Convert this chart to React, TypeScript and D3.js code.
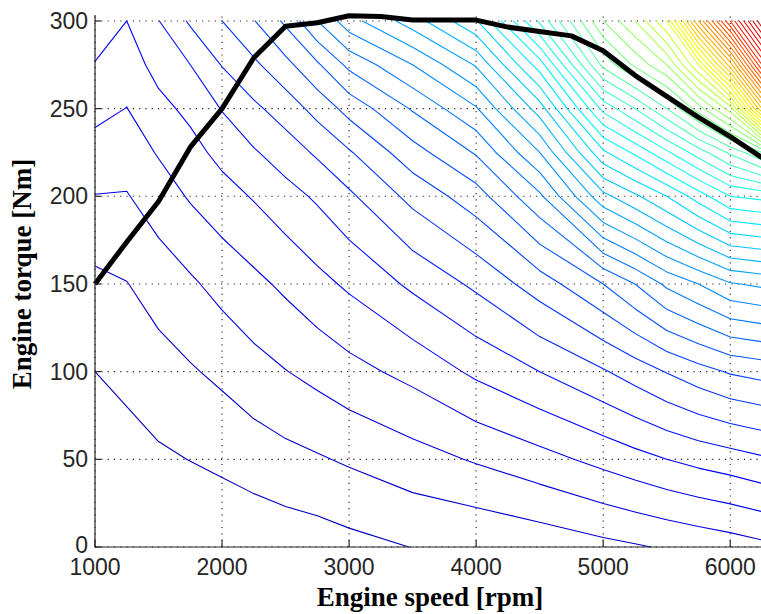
import React from 'react';
import * as d3 from 'd3';

const gridSpeeds = [1000, 1250, 1500, 1750, 2000, 2250, 2500, 2750, 3000, 3500, 4000, 4500, 5000, 5250, 5500, 5750, 6000, 6250];
const gridTorques = [0, 50, 100, 150, 200, 225, 250, 275, 300];

// One array per torque row (values = contour level index at each speed)
const levelAtT0 = [-0.5, -0.3, 0.0, 0.08, 0.2, 0.3, 0.4, 0.5, 0.69, 1.02, 1.1, 1.35, 1.72, 1.9, 2.1, 2.3, 2.5, 2.75];
const levelAtT50 = [0.3, 0.55, 0.85, 1.02, 1.21, 1.45, 1.7, 1.9, 2.13, 2.6, 3.1, 3.65, 4.3, 4.65, 5.0, 5.3, 5.55, 5.85];
const levelAtT100 = [1.0, 1.3, 1.59, 1.9, 2.22, 2.64, 2.97, 3.3, 3.67, 4.3, 5.2, 6.0, 6.9, 7.45, 8.05, 8.6, 9.1, 9.35];
const levelAtT150 = [1.75, 1.97, 2.44, 2.85, 3.33, 3.75, 4.2, 4.7, 5.17, 6.2, 7.2, 8.5, 10.0, 11.0, 12.2, 13.0, 13.9, 14.2];
const levelAtT200 = [2.97, 2.94, 3.5, 4.1, 4.6, 5.08, 5.62, 6.15, 6.82, 8.3, 9.55, 11.8, 15.7, 16.8, 18.0, 19.5, 21.0, 21.3];
const levelAtT225 = [3.6, 3.46, 4.08, 4.65, 5.3, 5.9, 6.5, 7.15, 7.9, 9.6, 11.1, 14.0, 18.8, 20.2, 21.8, 23.5, 25.2, 27.0];
const levelAtT250 = [4.3, 3.98, 4.7, 5.25, 6.05, 6.8, 7.45, 8.35, 9.35, 11.1, 12.9, 16.5, 22.3, 24.0, 26.0, 28.5, 31.5, 40.0];
const levelAtT275 = [4.95, 4.5, 5.35, 6.0, 7.05, 7.8, 8.7, 9.85, 11.25, 13.0, 15.1, 19.5, 26.3, 28.2, 30.0, 34.0, 40.5, 49.0];
const levelAtT300 = [5.6, 5.0, 5.97, 7.15, 8.0, 8.95, 10.2, 12.0, 13.6, 15.5, 17.9, 23.2, 29.0, 31.0, 34.0, 42.0, 49.0, 56.0];

const contourLevels = [
  1, 2, 3, 4, 5, 6, 7, 8, 9, 10, 11, 12, 13, 14, 15, 16, 17, 18, 19, 20,
  21, 22, 23, 24, 25, 26, 27, 28, 29, 30, 31, 32, 33, 34, 35, 36, 37, 38, 39, 40,
  41, 42, 43, 44, 45, 46, 47, 48, 49, 50, 51, 52, 53, 54, 55,
];

// Maximum torque curve (thick black line)
const maxTorqueSpeed = [1000, 1250, 1500, 1750, 2000, 2250, 2500, 2750, 3000, 3250, 3500, 3750, 4000, 4250, 4500, 4750, 5000, 5250, 5500, 5750, 6000, 6250];
const maxTorque = [150, 174, 197, 228, 250, 279, 297, 299, 303, 302.5, 300.5, 300.5, 300.5, 296.5, 294, 291.5, 283, 269, 257, 245, 234, 222];

const xTicks = [1000, 2000, 3000, 4000, 5000, 6000];
const yTicks = [0, 50, 100, 150, 200, 250, 300];

const xLabel = 'Engine speed [rpm]';
const yLabel = 'Engine torque [Nm]';

function jet(f: number): string {
  const c = (v: number) => Math.max(0, Math.min(1, v));
  const r = c(Math.min(4 * f - 1.5, -4 * f + 4.5));
  const g = c(Math.min(4 * f - 0.5, -4 * f + 3.5));
  const b = c(Math.min(4 * f + 0.5, -4 * f + 2.5));
  return d3.rgb(r * 255, g * 255, b * 255).formatHex();
}

type Pt = [number, number];

function marchingSegments(grid: number[][], xs: number[], ys: number[], level: number): [Pt, Pt][] {
  const segs: [Pt, Pt][] = [];
  for (let j = 0; j < ys.length - 1; j++) {
    for (let i = 0; i < xs.length - 1; i++) {
      const v = [grid[j][i], grid[j][i + 1], grid[j + 1][i + 1], grid[j + 1][i]];
      const P: Pt[] = [[xs[i], ys[j]], [xs[i + 1], ys[j]], [xs[i + 1], ys[j + 1]], [xs[i], ys[j + 1]]];
      const pts: Pt[] = [];
      for (let e = 0; e < 4; e++) {
        const a = v[e] - level;
        const b = v[(e + 1) % 4] - level;
        if ((a < 0) !== (b < 0)) {
          const f = a / (a - b);
          const pa = P[e];
          const pb = P[(e + 1) % 4];
          pts.push([pa[0] + f * (pb[0] - pa[0]), pa[1] + f * (pb[1] - pa[1])]);
        }
      }
      if (pts.length === 2) segs.push([pts[0], pts[1]]);
      else if (pts.length === 4) {
        const c = (v[0] + v[1] + v[2] + v[3]) / 4 - level;
        if ((c < 0) === (v[0] - level < 0)) {
          segs.push([pts[0], pts[1]]);
          segs.push([pts[2], pts[3]]);
        } else {
          segs.push([pts[0], pts[3]]);
          segs.push([pts[1], pts[2]]);
        }
      }
    }
  }
  return segs;
}

export default function App() {
  const left = 95;
  const right = 762;
  const top = 15;
  const bottom = 547;

  const x = d3.scaleLinear().domain([1000, 6250]).range([left, right]);
  const y = d3.scaleLinear().domain([0, 303.4]).range([bottom, top]);

  const grid = [levelAtT0, levelAtT50, levelAtT100, levelAtT150, levelAtT200, levelAtT225, levelAtT250, levelAtT275, levelAtT300];

  const colorOf = (L: number) => jet(0.06 + (L - 1) * 0.01614);

  const contourPaths = contourLevels.map((L) => {
    const segs = marchingSegments(grid, gridSpeeds, gridTorques, L);
    const d = segs
      .map(([a, b]) => `M${x(a[0]).toFixed(2)},${y(a[1]).toFixed(2)}L${x(b[0]).toFixed(2)},${y(b[1]).toFixed(2)}`)
      .join('');
    return { L, d, color: colorOf(L) };
  });

  const maxLine = d3
    .line<number>()
    .x((_, i) => x(maxTorqueSpeed[i]))
    .y((t) => y(t))(maxTorque) as string;

  const tickFont = "'Liberation Sans', Arial, sans-serif";
  const titleFont = "'Liberation Serif', 'Times New Roman', serif";

  return (
    <svg
      width={761}
      height={614}
      style={{ position: 'absolute', left: 0, top: 0, background: '#fff' }}
      xmlns="http://www.w3.org/2000/svg"
    >
      <rect x={0} y={0} width={761} height={614} fill="#fff" />
      {/* grid */}
      <g stroke="#222" strokeWidth={1.1} strokeDasharray="1.2,5.1" fill="none">
        {xTicks.map((v) => (
          <line key={'gx' + v} x1={x(v)} x2={x(v)} y1={bottom} y2={top} />
        ))}
        {yTicks.map((v) => (
          <line key={'gy' + v} x1={left} x2={right} y1={y(v)} y2={y(v)} />
        ))}
      </g>
      {/* contours */}
      <g fill="none" strokeWidth={1.1} strokeLinecap="round" strokeLinejoin="round">
        {contourPaths.map((p) => (
          <path key={'c' + p.L} d={p.d} stroke={p.color} />
        ))}
      </g>
      {/* max torque line */}
      <path d={maxLine} fill="none" stroke="#000" strokeWidth={5} strokeLinejoin="round" />
      {/* axes */}
      <g stroke="#262626" strokeWidth={1.2} fill="none">
        <line x1={left} x2={left} y1={top} y2={bottom + 0.5} />
        <line x1={left} x2={right} y1={bottom} y2={bottom} />
        {xTicks.map((v) => (
          <line key={'tx' + v} x1={x(v)} x2={x(v)} y1={bottom} y2={bottom - 7} />
        ))}
        {yTicks.map((v) => (
          <line key={'ty' + v} x1={left} x2={left + 6} y1={y(v)} y2={y(v)} />
        ))}
      </g>
      {/* tick labels */}
      <g fill="#262626" fontFamily={tickFont} fontSize={23}>
        {xTicks.map((v) => (
          <text key={'lx' + v} x={x(v)} y={575} textAnchor="middle">
            {v}
          </text>
        ))}
        {yTicks.map((v) => (
          <text key={'ly' + v} x={88} y={y(v) + (v === 0 ? 6 : 8)} textAnchor="end">
            {v}
          </text>
        ))}
      </g>
      {/* axis titles */}
      <text x={430} y={606} textAnchor="middle" fontFamily={titleFont} fontWeight="bold" fontSize={27} fill="#000">
        {xLabel}
      </text>
      <text
        transform={`translate(31,${274}) rotate(-90)`}
        textAnchor="middle"
        fontFamily={titleFont}
        fontWeight="bold"
        fontSize={27}
        fill="#000"
      >
        {yLabel}
      </text>
    </svg>
  );
}
